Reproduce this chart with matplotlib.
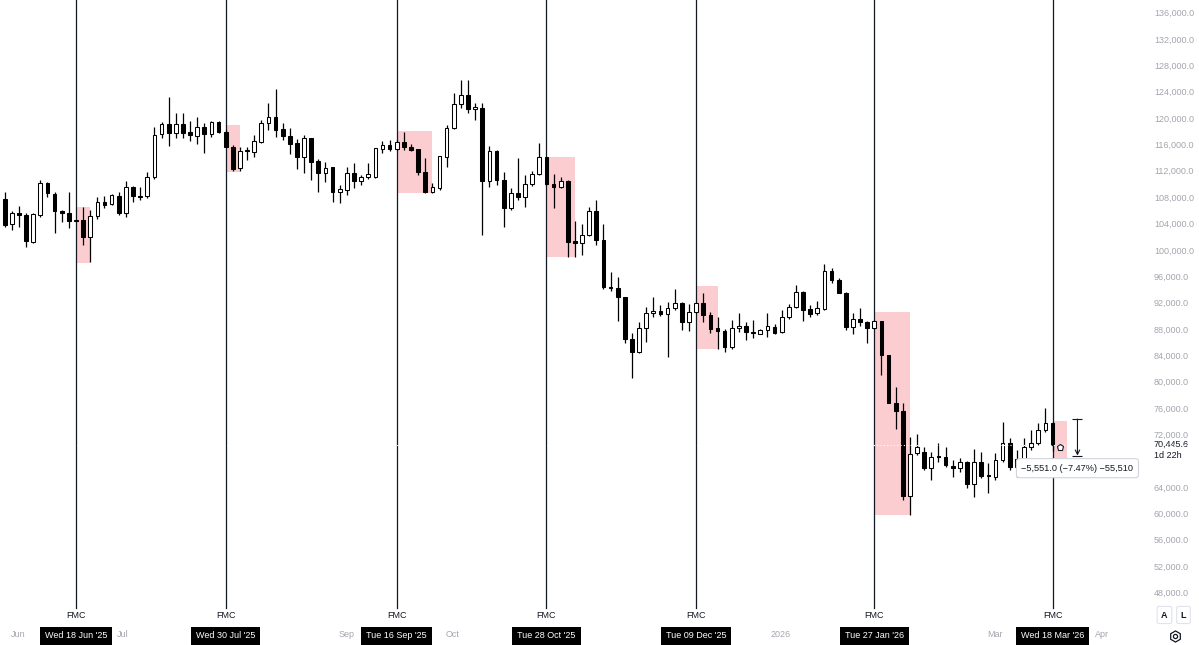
import matplotlib
matplotlib.use("Agg")
import matplotlib.pyplot as plt
from matplotlib.patches import Rectangle
from matplotlib.transforms import blended_transform_factory
import numpy as np

plt.rcParams['font.family'] = ['Liberation Sans', 'DejaVu Sans']

# ---- 2-day candles (bar index 0 ~ 29 May 2025) ----
opens = [107720, 103930, 105550, 105290, 101240, 105290, 110190, 108480, 105940, 105550,
         104490, 104530, 102000, 105140, 107220, 106920, 108220, 105550, 109500, 108180,
         108180, 111110, 117540, 119100, 117690, 119100, 117850, 117330, 118700, 117590,
         119360, 117940, 115660, 112470, 115110, 114930, 116420, 119210, 120120, 118300,
         117330, 116180, 114050, 116930, 113490, 111620, 112530, 108740, 109090, 111620,
         110500, 111010, 111110, 115360, 115870, 115260, 116420, 115570, 115260, 111860,
         108830, 109440, 114140, 118450, 122140, 123510, 121340, 121490, 110500, 115050,
         110600, 106310, 108590, 108070, 109950, 111520, 114050, 109950, 109500, 110500,
         101340, 101090, 102260, 105900, 101500, 94410, 94160, 92800, 86420, 84450,
         88090, 90370, 90760, 90220, 91130, 91890, 89090, 90520, 91890, 90110,
         88090, 87730, 85300, 88090, 88490, 87490, 87270, 87790, 88340, 87490,
         89850, 91280, 93650, 91020, 90370, 91020, 96840, 95420, 93500, 88240,
         89460, 89090, 88090, 89200, 84040, 76800, 75540, 62640, 69120, 69360,
         66840, 68660, 68600, 67240, 66840, 67750, 64460, 67840, 65780, 65470,
         68100, 70640, 66990, 68210, 70030, 70730, 72650, 73760]
highs = [108830, 105940, 106660, 105550, 105640, 110600, 110350, 108830, 106050, 108830,
         104580, 106460, 106050, 108070, 108180, 108430, 108830, 110450, 109690, 109590,
         111860, 118700, 119450, 123250, 120820, 120730, 119610, 120120, 119210, 119610,
         119610, 118190, 115920, 115570, 115660, 117510, 119710, 122250, 124370, 119210,
         118450, 116780, 117440, 117000, 113790, 113380, 112620, 109850, 112530, 113230,
         111360, 113140, 115510, 116570, 116680, 116680, 117940, 116070, 115300, 113900,
         110100, 114300, 118950, 123860, 125780, 125780, 122250, 122340, 115810, 115160,
         111860, 109340, 113900, 111360, 112020, 116270, 114100, 111520, 111010, 110550,
         104430, 103930, 106460, 107570, 103930, 96680, 95930, 92890, 87330, 89090,
         91370, 92890, 91630, 92130, 94010, 92130, 91780, 92080, 93410, 90610,
         89850, 87940, 89350, 90460, 89090, 89350, 87940, 90370, 88750, 90870,
         91780, 94670, 93700, 91630, 92280, 97850, 97200, 95680, 93650, 90460,
         91130, 89250, 89350, 89250, 84100, 79230, 76710, 71590, 72050, 70120,
         69360, 70730, 70120, 68100, 68360, 67990, 69720, 69360, 67690, 69120,
         73820, 71390, 69620, 71390, 72650, 73760, 75950, 73800]
lows = [103520, 103010, 103520, 100480, 101090, 104940, 107980, 102600, 104270, 103360,
        104380, 100740, 98110, 104640, 106310, 106810, 105290, 105030, 107310, 107570,
        107830, 110710, 116930, 115770, 116930, 116930, 116520, 116070, 114750, 117090,
        117780, 115570, 111970, 111970, 113640, 114170, 116180, 118190, 117180, 116680,
        114550, 112230, 111620, 110600, 108830, 110350, 107310, 107160, 108330, 109340,
        109850, 110710, 110860, 114660, 115050, 115160, 115160, 115050, 111360, 108590,
        108680, 109090, 112620, 118300, 121490, 120730, 119710, 102260, 109590, 109850,
        103420, 106050, 107570, 106550, 109690, 111360, 109850, 106310, 109340, 98960,
        98960, 99220, 102100, 100740, 94010, 93800, 89250, 85910, 80500, 84400,
        86060, 89850, 89960, 83690, 90870, 87830, 87730, 90400, 89090, 87420,
        84950, 84450, 84950, 87580, 86320, 86570, 87220, 86820, 87220, 87330,
        89500, 91130, 89250, 89850, 90110, 90870, 94920, 93410, 87830, 87180,
        88440, 85910, 87940, 81000, 76710, 72760, 62030, 59750, 68860, 66580,
        65060, 67840, 67080, 65570, 66330, 63800, 62440, 65320, 63140, 65060,
        67840, 66580, 65470, 67990, 69620, 70380, 72400, 69520]
closes = [103770, 105550, 105290, 101340, 105400, 110190, 108590, 105940, 105550, 104380,
          104440, 102000, 105190, 107220, 106810, 108280, 105550, 109500, 108180, 108070,
          111110, 117440, 119100, 117690, 119100, 117780, 117440, 118700, 117540, 119360,
          117940, 115660, 112230, 115010, 115010, 116520, 119300, 120120, 118190, 117280,
          116020, 114050, 116930, 113380, 111620, 112470, 108830, 109240, 111620, 110500,
          111110, 111470, 115420, 115870, 115260, 116370, 115570, 115160, 111860, 108830,
          109590, 114250, 118450, 122140, 123510, 121340, 121640, 110500, 115050, 110600,
          106310, 108590, 108070, 109950, 111520, 114050, 110000, 109500, 110450, 101240,
          101090, 102260, 105900, 101500, 94320, 94160, 92800, 86420, 84450, 88090,
          90370, 90760, 90220, 91130, 91890, 89090, 90520, 91980, 90110, 87990,
          87680, 85300, 88090, 88490, 87490, 87330, 87830, 88440, 87420, 89850,
          91280, 93650, 90870, 90260, 91130, 96840, 95420, 93500, 88240, 89460,
          89090, 88090, 89200, 84040, 76800, 75540, 62640, 69010, 70030, 66840,
          68600, 68510, 67340, 66840, 67750, 64460, 67840, 65670, 65630, 68100,
          70640, 66990, 68210, 70030, 70730, 72650, 73760, 70445.6]

# ---- FOMC markers and shaded ranges ----
fmc_bars = [10, 31, 55, 76, 97, 122, 147]
fmc_dates = ["Wed 18 Jun '25", "Wed 30 Jul '25", "Tue 16 Sep '25", "Tue 28 Oct '25",
             "Tue 09 Dec '25", "Tue 27 Jan '26", "Wed 18 Mar '26"]
box_start = [10, 31, 55, 76, 97, 122, 147]
box_end = [12, 33, 60, 80, 100, 127, 149]
box_top = [106550, 118950, 118040, 114050, 94510, 90610, 74070]
box_bottom = [98050, 111860, 108590, 98960, 84950, 59750, 68360]

# ---- axis labels ----
month_pos = [1.87, 16.6, 47.9, 62.9, 108.9, 138.9, 153.9]
month_labels = ["Jun", "Jul", "Sep", "Oct", "2026", "Mar", "Apr"]
price_ticks = [48000, 52000, 56000, 60000, 64000, 72000, 76000, 80000, 84000, 88000,
               92000, 96000, 100000, 104000, 108000, 112000, 116000, 120000, 124000,
               128000, 132000, 136000]

last_price = 70445.6
countdown = "1d 22h"
measure_from = 74311.0
measure_to = 68760.0
measure_bar = 150.5
measure_text = "\u22125,551.0 (\u22127.47%) \u221255,510"
marker_bar = 148.0
marker_price = 70030

W, H = 1199, 645
fig = plt.figure(figsize=(W / 100, H / 100), dpi=100)
ax = fig.add_axes([0, 0, 1, 1])
ax.set_xlim(-0.66, 167.55)
ax.set_ylim(40017, 137928)
for s in ax.spines.values():
    s.set_visible(False)

dark = '#131722'
grey = '#a3a6af'

# shaded boxes
for s0, s1, t, b in zip(box_start, box_end, box_top, box_bottom):
    ax.add_patch(Rectangle((s0, b), s1 - s0, t - b, facecolor=(0.949, 0.212, 0.271, 0.25),
                           edgecolor='none', zorder=1))

# FMC vertical lines
for b in fmc_bars:
    ax.axvline(b, ymin=1 - 608 / H, ymax=1, color=dark, lw=0.9, zorder=2)

# candles
x = np.arange(len(opens))
o = np.array(opens, float); c = np.array(closes, float)
h = np.array(highs, float); l = np.array(lows, float)
up = c >= o
ax.vlines(x, l, h, color='black', lw=0.9, zorder=3)
bb = np.minimum(o, c); bh = np.abs(c - o)
ax.bar(x[up], bh[up], bottom=bb[up], width=0.52, facecolor='white', edgecolor='black',
       linewidth=0.75, zorder=4)
ax.bar(x[~up], bh[~up], bottom=bb[~up], width=0.52, facecolor='black', edgecolor='black',
       linewidth=0.75, zorder=4)

# last price dotted line
ax.axhline(last_price, color='white', lw=0.8, ls=(0, (1, 2)), zorder=6)

# marker after last candle
ax.plot([marker_bar], [marker_price], marker='p', ms=4.5, mfc='white', mec=dark, mew=0.8,
        zorder=7)

# measurement
ax.annotate('', xy=(measure_bar, measure_to), xytext=(measure_bar, measure_from),
            arrowprops=dict(arrowstyle='->', lw=0.8, color=dark, shrinkA=0, shrinkB=0,
                            mutation_scale=8), zorder=7)
ax.hlines([measure_from, measure_to], measure_bar - 0.7, measure_bar + 0.7, color=dark,
          lw=0.8, zorder=7)
ax.text(measure_bar, measure_to - 1900, measure_text, ha='center', va='center', fontsize=6.6,
        color=dark, zorder=8,
        bbox=dict(boxstyle='round,pad=0.55,rounding_size=0.35', fc='white', ec='#d1d4dc', lw=0.8))

# FMC labels and date boxes
trans = blended_transform_factory(ax.transData, ax.transAxes)
for b, d in zip(fmc_bars, fmc_dates):
    ax.text(b, 1 - 616 / H, "FMC", transform=trans, ha='center', va='center', fontsize=6.5,
            color=dark)
    ax.text(b, 1 - 636 / H, d, transform=trans, ha='center', va='center', fontsize=6.5,
            color='white', zorder=9,
            bbox=dict(boxstyle='square,pad=0.55', fc='black', ec='none'))

# x month labels (inside)
ax.set_xticks(month_pos, month_labels)
ax.tick_params(axis='x', direction='in', length=0, pad=-10.5, labelsize=6.5, labelcolor=grey)

# y price labels (inside, right)
ax.yaxis.tick_right()
ax.set_yticks(price_ticks, [f"{v:,.1f}" for v in price_ticks])
ax.tick_params(axis='y', direction='in', length=0, pad=-32.4, labelsize=6.5, labelcolor=grey)

# last price label
ax.text(1154 / W, last_price, f"{last_price:,.1f}", transform=blended_transform_factory(ax.transAxes, ax.transData),
        ha='left', va='center', fontsize=6.5, color=dark)
ax.text(1154 / W, last_price - 1700, countdown, transform=blended_transform_factory(ax.transAxes, ax.transData),
        ha='left', va='center', fontsize=6.5, color=dark)

# corner buttons
for bx, lab in [(1164.5, "A"), (1183.5, "L")]:
    ax.text(bx / W, 1 - 615 / H, lab, transform=ax.transAxes, ha='center', va='center',
            fontsize=6.5, color=dark, fontweight='bold',
            bbox=dict(boxstyle='round,pad=0.45,rounding_size=0.2', fc='white', ec='#e0e3eb', lw=0.8))
ax.plot([1174.5 / W], [1 - 636 / H], marker='h', ms=8, mfc='none', mec=dark, mew=0.9,
        transform=ax.transAxes, clip_on=False)
ax.plot([1174.5 / W], [1 - 636 / H], marker='o', ms=3, mfc='none', mec=dark, mew=0.9,
        transform=ax.transAxes, clip_on=False)

fig.savefig("out.png", dpi=100, facecolor='white')
